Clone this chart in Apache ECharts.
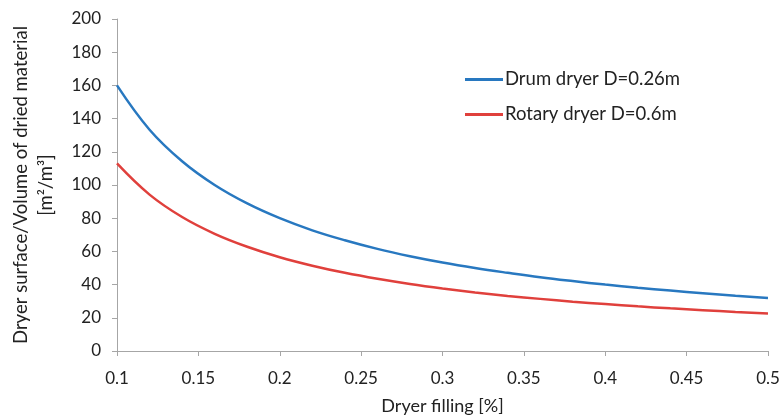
<!DOCTYPE html>
<html>
<head>
<meta charset="utf-8">
<script src="https://cdn.jsdelivr.net/npm/echarts@6/dist/echarts.min.js"></script>
<style>
  html, body { margin: 0; padding: 0; background: #fff; }
  #chart { width: 783px; height: 419px; }
</style>
</head>
<body>
<div id="chart"></div>
<script>
// values
const filling = [0.10, 0.12, 0.14, 0.16, 0.18, 0.20, 0.22, 0.24, 0.26, 0.28, 0.30,
  0.32, 0.34, 0.36, 0.38, 0.40, 0.42, 0.44, 0.46, 0.48, 0.50]
const drumDryer = [160, 133.3, 114.3, 100, 88.9, 80, 72.7, 66.7, 61.5, 57.1, 53.3,
  50, 47.1, 44.4, 42.1, 40, 38.1, 36.4, 34.8, 33.3, 32]
const rotaryDryer = [113, 94.2, 80.7, 70.6, 62.8, 56.5, 51.4, 47.1, 43.5, 40.4, 37.7,
  35.3, 33.2, 31.4, 29.7, 28.3, 26.9, 25.7, 24.6, 23.5, 22.6]
const seriesNames = ['Drum dryer D=0.26m', 'Rotary dryer D=0.6m']

const font = 'Lato, "Open Sans", sans-serif'
const chart = echarts.init(document.getElementById('chart'))

const pairs = (ys) => filling.map((x, i) => [x, ys[i]])

const option = {
  animation: false,
  backgroundColor: '#fff',
  textStyle: { fontFamily: font },
  grid: { left: 117, right: 15, top: 19, bottom: 68, outerBoundsMode: 'none', containLabel: false },
  legend: {
    orient: 'vertical',
    left: 460,
    top: 65,
    itemWidth: 38,
    itemHeight: 3,
    itemGap: 16,
    icon: 'rect',
    textStyle: { fontSize: 18.5, color: '#222', fontFamily: font, padding: [0, 0, 0, -3] },
    data: seriesNames
  },
  xAxis: {
    type: 'value',
    min: 0.1,
    max: 0.5,
    interval: 0.05,
    name: 'Dryer filling [%]',
    nameLocation: 'middle',
    nameGap: 46,
    nameTextStyle: { fontSize: 18, color: '#222' },
    splitLine: { show: false },
    axisLine: { lineStyle: { color: '#a6a6a6', width: 1 } },
    axisTick: { show: true, length: 5, lineStyle: { color: '#a6a6a6' } },
    axisLabel: { fontSize: 17, color: '#222', margin: 19,
      formatter: v => String(Math.round(v * 100) / 100) }
  },
  yAxis: {
    type: 'value',
    min: 0,
    max: 200,
    interval: 20,
    name: 'Dryer surface/Volume of dried material\n[m²/m³]',
    nameLocation: 'middle',
    nameGap: 58,
    nameTextStyle: { fontSize: 18.5, color: '#222', lineHeight: 25 },
    splitLine: { show: false },
    axisLine: { show: true, lineStyle: { color: '#a6a6a6', width: 1 } },
    axisTick: { show: true, length: 5, lineStyle: { color: '#a6a6a6' } },
    axisLabel: { fontSize: 17, color: '#222', margin: 16 }
  },
  series: [
    {
      name: seriesNames[0],
      type: 'line',
      smooth: 0.4,
      showSymbol: false,
      data: pairs(drumDryer),
      itemStyle: { color: '#2878c0' },
      lineStyle: { color: '#2878c0', width: 2.5 }
    },
    {
      name: seriesNames[1],
      type: 'line',
      smooth: 0.4,
      showSymbol: false,
      data: pairs(rotaryDryer),
      itemStyle: { color: '#e0403c' },
      lineStyle: { color: '#e0403c', width: 2.5 }
    }
  ]
}

chart.setOption(option)
</script>
</body>
</html>
